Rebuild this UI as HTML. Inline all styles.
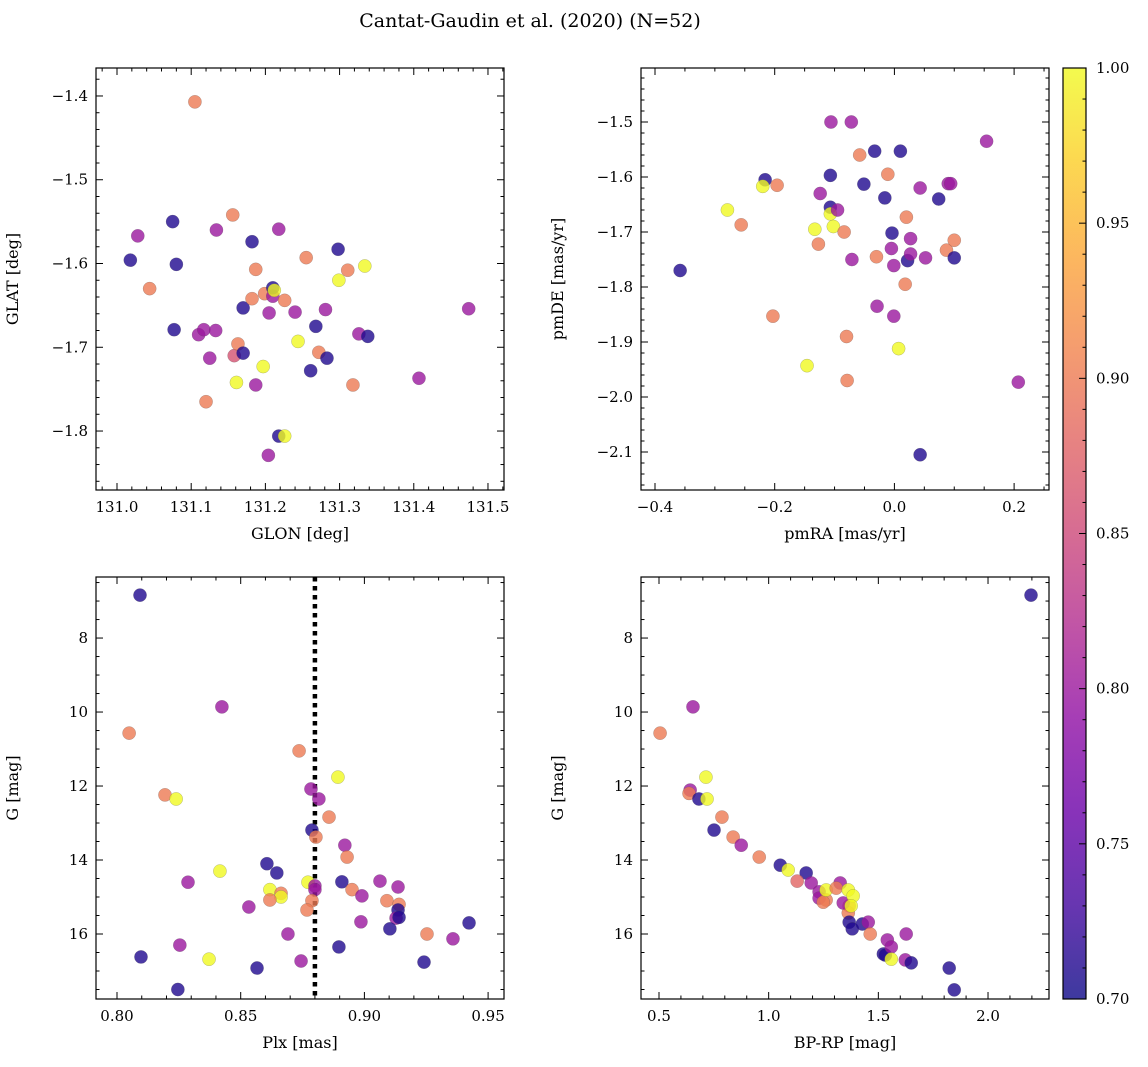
<!DOCTYPE html>
<html><head><meta charset="utf-8">
<style>
html,body{margin:0;padding:0;background:#fff;}
svg{display:block;font-family:"DejaVu Serif","Liberation Serif",serif;}
</style></head>
<body>
<svg id="fig" width="1148" height="1067" viewBox="0 0 1148 1067" xmlns="http://www.w3.org/2000/svg">
<text x="530" y="27" font-size="19" text-anchor="middle">Cantat-Gaudin et al. (2020) (N=52)</text>
</svg>
<script>
// Panel 1: GLON / GLAT
const p1x=[131.105,131.018,131.028,131.044,131.075,131.080,131.077,131.110,131.117,131.133,131.125,131.134,131.120,131.156,131.158,131.163,131.161,131.170,131.170,131.182,131.182,131.187,131.187,131.197,131.199,131.205,131.210,131.210,131.212,131.218,131.218,131.226,131.226,131.204,131.240,131.244,131.255,131.261,131.268,131.272,131.281,131.283,131.298,131.299,131.311,131.318,131.326,131.334,131.338,131.407,131.474];
const p1y=[-1.407,-1.596,-1.567,-1.630,-1.550,-1.601,-1.679,-1.685,-1.679,-1.680,-1.713,-1.560,-1.765,-1.542,-1.710,-1.696,-1.742,-1.707,-1.653,-1.642,-1.574,-1.607,-1.745,-1.723,-1.636,-1.659,-1.639,-1.629,-1.632,-1.559,-1.806,-1.806,-1.644,-1.829,-1.658,-1.693,-1.593,-1.728,-1.675,-1.706,-1.655,-1.713,-1.583,-1.620,-1.608,-1.745,-1.684,-1.603,-1.687,-1.737,-1.654];
const p1c=[0.9,0.71,0.8,0.9,0.71,0.71,0.71,0.8,0.8,0.8,0.8,0.8,0.9,0.9,0.86,0.9,1.0,0.71,0.71,0.9,0.71,0.9,0.8,1.0,0.9,0.8,0.8,0.71,1.0,0.8,0.71,1.0,0.9,0.8,0.8,1.0,0.9,0.71,0.71,0.9,0.8,0.71,0.71,1.0,0.9,0.9,0.8,1.0,0.71,0.8,0.8];
// Panel 2: pmRA / pmDE
const p2x=[-0.358,-0.279,-0.256,-0.216,-0.220,-0.196,-0.203,-0.146,-0.133,-0.127,-0.124,-0.106,-0.107,-0.107,-0.107,-0.102,-0.095,-0.084,-0.080,-0.079,-0.071,-0.072,-0.058,-0.051,-0.033,-0.030,-0.029,-0.016,-0.011,-0.005,-0.004,-0.001,-0.001,0.007,0.010,0.020,0.018,0.022,0.027,0.027,0.043,0.052,0.074,0.087,0.090,0.094,0.100,0.100,0.154,0.207,0.043];
const p2y=[-1.770,-1.660,-1.687,-1.605,-1.617,-1.615,-1.853,-1.943,-1.695,-1.722,-1.630,-1.500,-1.597,-1.655,-1.667,-1.690,-1.660,-1.700,-1.890,-1.970,-1.750,-1.500,-1.560,-1.613,-1.553,-1.745,-1.835,-1.638,-1.595,-1.730,-1.702,-1.761,-1.853,-1.912,-1.553,-1.673,-1.795,-1.752,-1.740,-1.712,-1.620,-1.747,-1.640,-1.733,-1.612,-1.612,-1.747,-1.715,-1.535,-1.973,-2.105];
const p2c=[0.71,1.0,0.9,0.71,1.0,0.9,0.9,1.0,1.0,0.9,0.8,0.8,0.71,0.71,1.0,1.0,0.8,0.9,0.9,0.9,0.8,0.8,0.9,0.71,0.71,0.9,0.8,0.71,0.9,0.8,0.71,0.8,0.8,1.0,0.71,0.9,0.9,0.71,0.8,0.8,0.8,0.8,0.71,0.9,0.8,0.8,0.71,0.9,0.8,0.8,0.71];
// Panel 3: Plx / G
const p3x=[0.8093,0.8049,0.8424,0.8194,0.8239,0.8736,0.8893,0.8784,0.8816,0.8857,0.8788,0.8804,0.8921,0.8930,0.8606,0.8646,0.8416,0.8287,0.8533,0.8618,0.8663,0.8663,0.8618,0.8772,0.8800,0.8800,0.8788,0.8768,0.8909,0.8950,0.8990,0.9063,0.9091,0.9136,0.9140,0.9136,0.9128,0.9140,0.8986,0.9103,0.8691,0.9253,0.9358,0.9423,0.8254,0.8097,0.8372,0.8744,0.8566,0.9241,0.8897,0.8246];
const p3y=[6.84,10.57,9.86,12.24,12.35,11.05,11.76,12.08,12.35,12.84,13.19,13.38,13.60,13.92,14.10,14.35,14.30,14.60,15.27,14.80,14.90,15.00,15.08,14.60,14.70,14.80,15.10,15.35,14.59,14.80,14.97,14.57,15.10,14.73,15.20,15.35,15.57,15.55,15.67,15.86,16.00,16.00,16.13,15.70,16.30,16.62,16.68,16.73,16.92,16.76,16.35,17.50];
const p3c=[0.71,0.9,0.8,0.9,1.0,0.9,1.0,0.8,0.8,0.9,0.71,0.9,0.8,0.9,0.71,0.71,1.0,0.8,0.8,1.0,0.9,1.0,0.9,1.0,0.8,0.8,0.9,0.9,0.71,0.9,0.8,0.8,0.9,0.8,0.9,0.71,0.8,0.71,0.8,0.71,0.8,0.9,0.8,0.71,0.8,0.71,1.0,0.8,0.71,0.71,0.71,0.71];
// Panel 4: BP-RP / G
const p4x=[2.196,0.655,0.505,0.642,0.637,0.682,0.719,0.714,0.787,0.751,0.838,0.875,0.957,1.053,1.089,1.171,1.130,1.194,1.230,1.230,1.262,1.249,1.326,1.262,1.308,1.363,1.367,1.363,1.367,1.381,1.340,1.427,1.454,1.463,1.523,1.532,1.541,1.559,1.559,1.623,1.627,1.650,1.823,1.846,1.385,1.376];
const p4y=[6.84,9.86,10.57,12.11,12.2,12.35,12.35,11.76,12.84,13.19,13.38,13.60,13.92,14.14,14.27,14.35,14.57,14.62,14.86,15.03,15.08,15.14,14.62,14.81,14.76,14.81,15.24,15.43,15.68,15.86,15.16,15.73,15.68,16.00,16.54,16.57,16.16,16.35,16.68,16.70,16.00,16.78,16.92,17.51,14.97,15.24];
const p4c=[0.71,0.8,0.9,0.8,0.9,0.71,1.0,1.0,0.9,0.71,0.9,0.8,0.9,0.71,1.0,0.71,0.88,0.8,0.8,0.8,0.9,0.9,0.8,1.0,0.9,1.0,0.9,0.9,0.71,0.71,0.8,0.71,0.8,0.9,0.71,0.71,0.8,0.8,1.0,0.8,0.8,0.71,0.71,0.71,1.0,1.0];
const cbTicks=["0.70","0.75","0.80","0.85","0.90","0.95","1.00"];

const NS="http://www.w3.org/2000/svg";
const svg=document.getElementById('fig');
function mk(tag,attrs,parent){const e=document.createElementNS(NS,tag);for(const k in attrs)e.setAttribute(k,attrs[k]);(parent||svg).appendChild(e);return e;}
const stops=[[0,[13,8,135]],[0.1,[65,4,157]],[0.2,[106,0,168]],[0.3,[143,13,164]],[0.4,[177,42,144]],[0.5,[204,71,120]],[0.6,[225,100,98]],[0.7,[242,132,75]],[0.8,[252,166,54]],[0.9,[252,206,37]],[1,[240,249,33]]];
function plasma(v){let t=Math.max(0,Math.min(1,(v-0.7)/0.3));for(let i=1;i<stops.length;i++){if(t<=stops[i][0]){const a=stops[i-1],b=stops[i];const f=(t-a[0])/(b[0]-a[0]);const c=a[1].map((x,j)=>Math.round(x+(b[1][j]-x)*f));return `rgb(${c[0]},${c[1]},${c[2]})`;}}return 'rgb(240,249,33)';}
function fmt(v,d){let s=v.toFixed(d);return s.replace('-','\u2212');}

function panel(name,box,xl,yl,yInv,xMaj,xMin,yMaj,yMin,xd,yd,xs,ys,cs,xlab,ylab,extra){
  const [L,T,R,B]=box;
  const sx=v=>L+(v-xl[0])/(xl[1]-xl[0])*(R-L);
  const sy=yInv?(v=>T+(v-yl[0])/(yl[1]-yl[0])*(B-T)):(v=>B-(v-yl[0])/(yl[1]-yl[0])*(B-T));
  const g=mk('g',{});
  
  
  if(extra)extra(g,sx,sy);
  for(let i=0;i<xs.length;i++){
    const c=mk('circle',{cx:sx(xs[i]),cy:sy(ys[i]),r:6.6,fill:plasma(cs[i]),'fill-opacity':0.8,stroke:'#555','stroke-width':0.4,'stroke-opacity':0.5},g);
    
    
  }
  const fr=mk('rect',{x:L,y:T,width:R-L,height:B-T,fill:'none',stroke:'#000','stroke-width':1.2},g);
  
  
  const eps=1e-9;
  for(let v=Math.ceil(xl[0]/xMin-eps)*xMin;v<=xl[1]+eps;v+=xMin){
    const x=sx(v);const isMaj=Math.abs(v/xMaj-Math.round(v/xMaj))<1e-6;const len=isMaj?7:3.5;
    mk('line',{x1:x,x2:x,y1:B,y2:B-len,stroke:'#000','stroke-width':1},g);
    mk('line',{x1:x,x2:x,y1:T,y2:T+len,stroke:'#000','stroke-width':1},g);
    if(isMaj){const t=mk('text',{x:x,y:B+22,'font-size':15,'text-anchor':'middle'},g);t.textContent=fmt(Math.round(v/xMaj)*xMaj,xd);
      }
  }
  for(let v=Math.ceil(Math.min(yl[0],yl[1])/yMin-eps)*yMin;v<=Math.max(yl[0],yl[1])+eps;v+=yMin){
    const y=sy(v);const isMaj=Math.abs(v/yMaj-Math.round(v/yMaj))<1e-6;const len=isMaj?7:3.5;
    mk('line',{x1:L,x2:L+len,y1:y,y2:y,stroke:'#000','stroke-width':1},g);
    mk('line',{x1:R,x2:R-len,y1:y,y2:y,stroke:'#000','stroke-width':1},g);
    if(isMaj){const t=mk('text',{x:L-8,y:y+5,'font-size':15,'text-anchor':'end'},g);t.textContent=fmt(Math.round(v/yMaj)*yMaj,yd);
      }
  }
  const xt=mk('text',{x:(L+R)/2,y:B+49,'font-size':16,'text-anchor':'middle'},g);xt.textContent=xlab;
  
  const yx=L-78,yy=(T+B)/2;
  const yt=mk('text',{x:yx,y:yy,'font-size':16,'text-anchor':'middle',transform:`rotate(-90 ${yx} ${yy})`},g);yt.textContent=ylab;
  
}
panel('glon-glat-panel',[96,68,504,490],[130.9717,131.5216],[-1.8704,-1.3666],false,0.1,0.02,0.1,0.02,1,1,p1x,p1y,p1c,'GLON [deg]','GLAT [deg]');
panel('pmra-pmde-panel',[641,68,1049,490],[-0.4234,0.2583],[-2.1691,-1.4018],false,0.2,0.05,0.1,0.02,1,1,p2x,p2y,p2c,'pmRA [mas/yr]','pmDE [mas/yr]');
panel('plx-g-panel',[96,577,504,999],[0.79151,0.95643],[6.35,17.757],true,0.05,0.01,2,0.5,2,0,p3x,p3y,p3c,'Plx [mas]','G [mag]',(g,sx,sy)=>{
  const l=mk('line',{x1:sx(0.88),x2:sx(0.88),y1:577,y2:999,stroke:'#000','stroke-width':4.5,'stroke-dasharray':'4.5 4.5'},g);
  });
panel('bprp-g-panel',[641,577,1049,999],[0.418,2.278],[6.35,17.757],true,0.5,0.1,2,0.5,1,0,p4x,p4y,p4c,'BP-RP [mag]','G [mag]');

const cb=mk('g',{});


const defs=mk('defs',{},cb);
const lg=mk('linearGradient',{id:'cbg',x1:0,y1:1,x2:0,y2:0},defs);
for(let i=0;i<=20;i++){mk('stop',{offset:i/20,'stop-color':plasma(0.7+0.3*i/20),'stop-opacity':0.8},lg);}
const CL=1063,CT=68,CR=1086,CB=999;
mk('rect',{x:CL,y:CT,width:CR-CL,height:CB-CT,fill:'url(#cbg)',stroke:'#000','stroke-width':1.2},cb);
for(let i=0;i<=30;i++){const v=0.7+i*0.01;const y=CB-(v-0.7)/0.3*(CB-CT);const maj=i%5===0;
  mk('line',{x1:CR,x2:CR-(maj?7:3.5),y1:y,y2:y,stroke:'#000','stroke-width':1},cb);}
cbTicks.forEach(s=>{const v=parseFloat(s);const y=CB-(v-0.7)/0.3*(CB-CT);
  const t=mk('text',{x:CR+10,y:y+5,'font-size':15},cb);t.textContent=s;
  });
</script>
</body></html>
